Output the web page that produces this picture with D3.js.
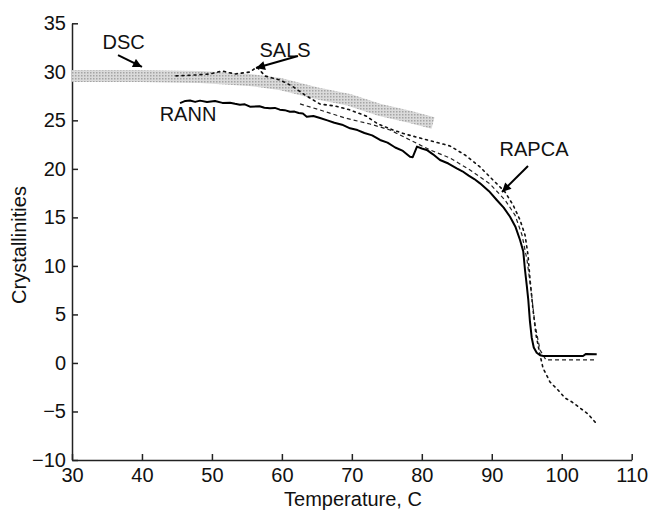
<!DOCTYPE html>
<html><head><meta charset="utf-8">
<script src="https://cdn.jsdelivr.net/npm/d3@7"></script>
<style>body{margin:0;background:#fff}svg{display:block}text{font-family:Arial,"Liberation Sans",sans-serif}</style>
</head><body><svg id="c" width="652" height="510"></svg>
<script>
const xTicks = [30,40,50,60,70,80,90,100,110];
const yTicks = [-10,-5,0,5,10,15,20,25,30,35];

const dscX = [30, 39.7, 48.3, 55.4, 59.7, 65.4, 69.7, 74.0, 78.3, 81.6];
const dscY = [29.57, 29.57, 29.47, 29.16, 28.75, 27.72, 27.1, 26.07, 25.35, 24.73];

const rannX = [45.44,46.2,46.87,47.6,48.3,49.3,50.44,51.5,52.58,53.3,54.0,54.7,55.44,56.8,57.5,58.3,59.0,59.7,60.4,61.16,61.8,62.4,63.0,63.55,64.5,65.45,66.5,67.5,68.6,69.74,70.8,71.8,72.9,74.03,75.1,76.2,77.3,78.31,78.7,79.31,80.0,80.7,81.6,82.6,83.8,84.99,85.8,86.7,87.5,88.32,89.6,90.71,91.7,92.61,93.4,94.04,94.5,94.75,95.0,95.22,95.45,95.71,96.0,96.42,96.9,97.37,100.0,103.04,103.47,105.0];
const rannY = [26.78,27.0,27.05,26.9,27.03,26.88,27.0,26.8,26.82,26.7,26.6,26.65,26.41,26.45,26.3,26.24,26.28,26.1,26.05,25.89,25.9,25.75,25.7,25.38,25.45,25.24,25.0,24.75,24.55,24.18,24.0,23.7,23.45,22.98,22.7,22.2,21.85,21.25,21.2,22.29,22.1,21.95,21.5,20.91,20.55,20.06,19.75,19.3,18.95,18.51,17.7,16.79,16.0,15.07,14.0,12.67,11.5,9.58,8.0,6.49,4.3,2.6,1.6,1.05,0.8,0.72,0.72,0.72,0.93,0.9];

const salsX = [44.87,47.58,49.73,51.44,53.3,55.44,56.44,57.59,59.73,61.45,63.3,65.45,67.59,69.74,72.02,73.74,75.88,77.6,79.74,81.89,84.03,86.17,88.32,90.46,91.89,93.04,94.04,94.75,95.18,95.47,95.9,96.33,96.9,97.32,98.32,99.47,100.47,101.47,102.61,103.76,104.76,105.04];
const salsY = [29.58,29.67,29.78,30.08,29.78,29.98,30.5,29.57,29.16,28.54,27.61,26.68,26.48,26.07,25.45,24.62,24.01,23.59,23.18,22.77,22.36,21.43,20.19,18.65,17.62,16.28,14.73,13.19,11.13,8.55,5.46,2.88,0.82,-0.52,-1.96,-2.79,-3.61,-4.02,-4.64,-5.26,-6.08,-6.39];

const rapcaX = [62.59,65.45,69.02,72.6,75.45,78.31,81.17,84.03,86.89,89.75,91.89,93.32,94.32,95.04,95.61,96.18,96.9,97.75,104.76];
const rapcaY = [26.69,26.07,25.24,24.62,24.01,22.98,21.95,21.12,19.89,18.44,16.79,15.24,13.19,10.61,7.52,3.91,1.34,0.31,0.31];

const labelText = ["DSC","SALS","RANN","RAPCA"];
const labelX = [37.39, 60.45, 46.58, 96.04];
const labelY = [33.12, 32.25, 25.65, 22.05];
const arrowX1 = [36.58, 62.30, 95.18];
const arrowY1 = [31.73, 31.63, 20.30];
const arrowX2 = [40.0, 56.30, 91.46];
const arrowY2 = [30.5, 30.39, 17.62];

const svg = d3.select("#c");
const x = d3.scaleLinear().domain([30,110]).range([72, 631.7]);
const y = d3.scaleLinear().domain([-10,35]).range([460, 23.3]);

const defs = svg.append("defs");
const pat = defs.append("pattern").attr("id","stip").attr("width",3).attr("height",3).attr("patternUnits","userSpaceOnUse");
pat.append("rect").attr("width",3).attr("height",3).attr("fill","#dadada");
pat.append("rect").attr("width",1.5).attr("height",1.5).attr("fill","#a4a4a4");
defs.append("marker").attr("id","ah").attr("viewBox","0 0 10 10").attr("refX",10).attr("refY",5)
  .attr("markerWidth",11).attr("markerHeight",9).attr("markerUnits","userSpaceOnUse").attr("orient","auto")
  .append("path").attr("d","M0,0L10,5L0,10Z").attr("fill","#000");

const ax = svg.append("g").attr("transform",`translate(0,${y(-10)})`)
  .call(d3.axisBottom(x).tickValues(xTicks).tickSizeInner(-6).tickSizeOuter(0).tickPadding(8));
const ay = svg.append("g").attr("transform",`translate(${x(30)},0)`)
  .call(d3.axisLeft(y).tickValues(yTicks).tickSizeInner(-6).tickSizeOuter(0).tickPadding(6));
[ax, ay].forEach(g => {
  g.selectAll("path.domain").attr("stroke","#222").attr("stroke-width",1.5);
  g.selectAll(".tick line").attr("stroke","#222").attr("stroke-width",1.5);
  g.selectAll(".tick text").attr("font-size",20).attr("fill","#111").attr("font-family","Arial, 'Liberation Sans', sans-serif");
});

svg.append("text").attr("transform","translate(19,245) rotate(-90)").attr("text-anchor","middle")
  .attr("dominant-baseline","central").attr("font-size",20).attr("fill","#111").text("Crystallinities");
svg.append("text").attr("x",353).attr("y",506).attr("text-anchor","middle")
  .attr("font-size",20).attr("fill","#111").text("Temperature, C");

const line = d3.line().x(d=>x(d[0])).y(d=>y(d[1]));
const zip = (a,b) => a.map((v,i)=>[v,b[i]]);

svg.append("path").datum(zip(dscX,dscY)).attr("d",line).attr("fill","none")
  .attr("stroke","url(#stip)").attr("stroke-width",12);

svg.append("path").datum(zip(salsX,salsY)).attr("d",line).attr("fill","none")
  .attr("stroke","#111").attr("stroke-width",1.6).attr("stroke-dasharray","2,4").attr("stroke-linecap","round");

svg.append("path").datum(zip(rapcaX,rapcaY)).attr("d",line).attr("fill","none")
  .attr("stroke","#222").attr("stroke-width",1.2).attr("stroke-dasharray","4,3");

svg.append("path").datum(zip(rannX,rannY)).attr("d",line).attr("fill","none")
  .attr("stroke","#000").attr("stroke-width",2).attr("stroke-linejoin","round");

svg.selectAll("text.lab").data(labelText).join("text").attr("class","lab")
  .attr("x",(d,i)=>x(labelX[i])).attr("y",(d,i)=>y(labelY[i]))
  .attr("text-anchor","middle").attr("dominant-baseline","central")
  .attr("font-size",20).attr("fill","#111").text(d=>d);

svg.selectAll("line.arr").data(arrowX1).join("line").attr("class","arr")
  .attr("x1",(d,i)=>x(arrowX1[i])).attr("y1",(d,i)=>y(arrowY1[i]))
  .attr("x2",(d,i)=>x(arrowX2[i])).attr("y2",(d,i)=>y(arrowY2[i]))
  .attr("stroke","#000").attr("stroke-width",2).attr("marker-end","url(#ah)");
</script></body></html>
